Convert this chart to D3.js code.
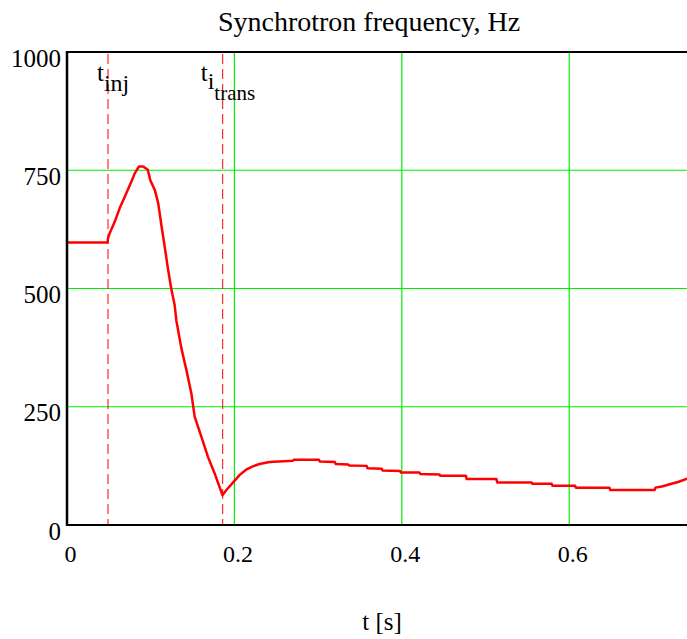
<!DOCTYPE html>
<html>
<head>
<meta charset="utf-8">
<script src="https://cdn.jsdelivr.net/npm/d3@7"></script>
<style>
  html, body { margin: 0; padding: 0; background: #fff; }
  svg { display: block; }
  svg text { font-family: "Liberation Serif", "DejaVu Serif", serif !important; fill: #000; }
</style>
</head>
<body>
<svg id="chart" width="687" height="639" font-family="Liberation Serif, serif"></svg>
<script>
// ---- data ----
const chartTitle = "Synchrotron frequency, Hz";
const xAxisLabel = "t [s]";
const xTicks = [0, 0.2, 0.4, 0.6];
const xTickLabels = ["0", "0.2", "0.4", "0.6"];
const yTicks = [0, 250, 500, 750, 1000];
const yTickLabels = ["0", "250", "500", "750", "1000"];
const xDomain = [0, 0.7407];
const yDomain = [0, 1000];
const tInj = 0.049;
const tTrans = 0.186;
const timeS = [0, 0.0485, 0.049, 0.051, 0.057, 0.063, 0.069, 0.077, 0.081, 0.086, 0.091, 0.0965, 0.0995, 0.105, 0.109, 0.113, 0.117, 0.1205, 0.1245, 0.1286,
  0.1306, 0.1366, 0.1426, 0.1486, 0.1525, 0.1605, 0.1684, 0.1764, 0.1857, 0.1904, 0.198, 0.2063, 0.214, 0.222, 0.230, 0.242,
  0.270, 0.271, 0.301, 0.302, 0.320, 0.321, 0.336, 0.337, 0.358, 0.359, 0.376, 0.377, 0.398, 0.399, 0.421, 0.422, 0.445, 0.446,
  0.4765, 0.4775, 0.513, 0.514, 0.555, 0.556, 0.579, 0.580, 0.607, 0.608, 0.648, 0.649, 0.702, 0.703, 0.712, 0.720, 0.730, 0.741];
const freqHz = [597, 597, 606, 617, 641, 670, 694, 726, 744, 758, 758, 751, 729, 708, 680, 631, 585, 543, 500, 465,
  433, 374, 328, 278, 229, 187, 144, 109, 63, 74, 89, 106, 117, 124, 129, 133,
  136, 138, 138, 134, 133, 129, 128, 126, 125, 120, 119, 115, 114, 111, 111, 108, 107, 104,
  104, 97, 97, 90, 90, 87, 87, 83, 83, 79, 79, 74, 74, 79, 82, 86, 91, 98];

// ---- layout ----
const svg = d3.select("#chart");
const pL = 67, pR = 687, pT = 52, pB = 525;
const x = d3.scaleLinear().domain(xDomain).range([pL, pR]);
const y = d3.scaleLinear().domain(yDomain).range([pB, pT]);
const serif = "Liberation Serif, serif";

svg.append("rect").attr("width", 687).attr("height", 639).attr("fill", "#fff");

// grid lines
const grid = svg.append("g");
grid.selectAll("line.gx").data(xTicks.filter(d => d > 0)).join("line")
  .attr("x1", d => x(d)).attr("x2", d => x(d)).attr("y1", pT).attr("y2", pB)
  .attr("stroke", "#00ee00").attr("stroke-width", 1.2);
grid.selectAll("line.gy").data(yTicks.filter(d => d > 0 && d < 1000)).join("line")
  .attr("x1", pL).attr("x2", pR).attr("y1", d => y(d)).attr("y2", d => y(d))
  .attr("stroke", "#00ee00").attr("stroke-width", 1.2);

// marker lines
[tInj, tTrans].forEach(t => {
  svg.append("line")
    .attr("x1", x(t)).attr("x2", x(t)).attr("y1", pT + 2).attr("y2", pB)
    .attr("stroke", "#ff0000").attr("stroke-width", 1).attr("stroke-dasharray", "10,5");
});

// curve
const pts = timeS.map((t, i) => [t, freqHz[i]]);
svg.append("path").datum(pts)
  .attr("d", d3.line().x(d => x(d[0])).y(d => y(d[1])))
  .attr("fill", "none").attr("stroke", "#ff0000").attr("stroke-width", 2.5)
  .attr("stroke-linejoin", "round");

// axes
const xAxis = svg.append("g").attr("transform", `translate(0,${pB})`)
  .call(d3.axisBottom(x).tickValues(xTicks).tickFormat((d, i) => xTickLabels[i]).tickSize(0))
  .attr("font-family", serif).attr("font-size", 24);
xAxis.select(".domain").remove();
xAxis.selectAll("text").attr("dy", null).attr("y", 37).attr("dx", 3).attr("fill", "#000");

const yAxis = svg.append("g").attr("transform", `translate(${pL},0)`)
  .call(d3.axisLeft(y).tickValues(yTicks).tickFormat((d, i) => yTickLabels[i]).tickSize(0))
  .attr("font-family", serif).attr("font-size", 25);
yAxis.select(".domain").remove();
yAxis.selectAll("text").attr("dy", null).attr("y", 14).attr("x", -6).attr("fill", "#000");

// frame lines
svg.append("line").attr("x1", pL).attr("x2", pR).attr("y1", pT).attr("y2", pT)
  .attr("stroke", "#000").attr("stroke-width", 2);
svg.append("line").attr("x1", pL).attr("x2", pR).attr("y1", pB).attr("y2", pB)
  .attr("stroke", "#000").attr("stroke-width", 2);
svg.append("line").attr("x1", pL).attr("x2", pL).attr("y1", pT - 1).attr("y2", pB + 1)
  .attr("stroke", "#000").attr("stroke-width", 2.5);

// title and axis label
svg.append("text").attr("x", 369).attr("y", 31).attr("text-anchor", "middle")
  .attr("font-family", serif).attr("font-size", 28).text(chartTitle);
svg.append("text").attr("x", 382).attr("y", 630).attr("text-anchor", "middle")
  .attr("font-family", serif).attr("font-size", 25).text(xAxisLabel);

// annotations
const a1 = svg.append("text").attr("x", x(tInj) - 11).attr("y", 81)
  .attr("font-family", serif).attr("font-size", 25);
a1.append("tspan").text("t");
a1.append("tspan").attr("dy", 10).attr("font-size", 24).text("inj");

const a2 = svg.append("text").attr("x", x(tTrans) - 22).attr("y", 81)
  .attr("font-family", serif).attr("font-size", 25);
a2.append("tspan").text("t");
a2.append("tspan").attr("dy", 8).attr("font-size", 24).text("i");
a2.append("tspan").attr("dy", 11).attr("font-size", 21).text("trans");
</script>
</body>
</html>
